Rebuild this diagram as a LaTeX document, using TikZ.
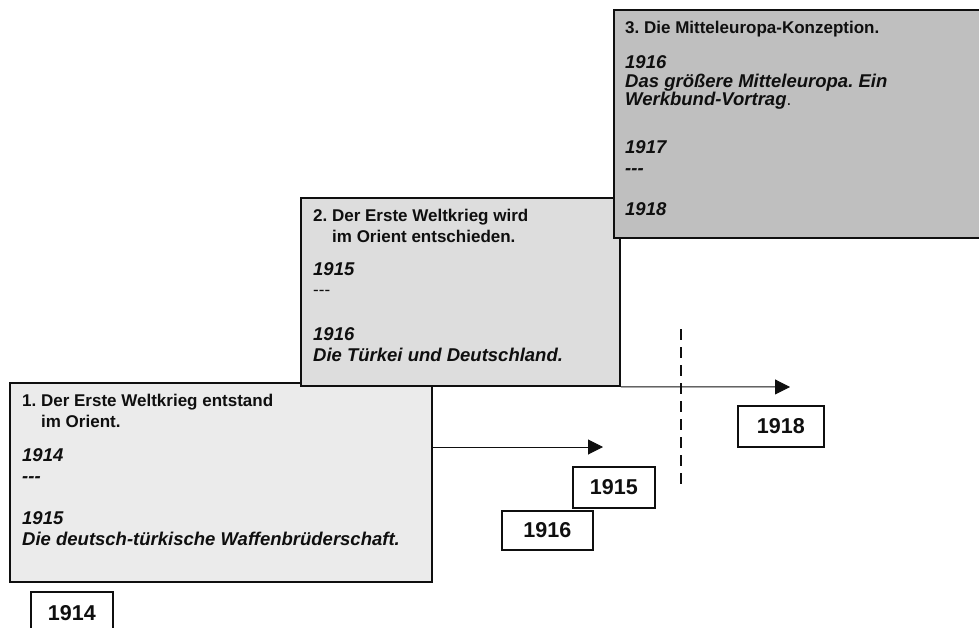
\documentclass[tikz,border=0pt]{standalone}
\usepackage{fontspec}
\setmainfont{Liberation Sans}
\usetikzlibrary{arrows.meta,positioning}
\definecolor{ink}{gray}{0.06}
\definecolor{paleI}{gray}{0.92}
\definecolor{paleII}{gray}{0.865}
\definecolor{paleIII}{gray}{0.75}
\newcommand{\yr}[1]{{\fontsize{18.5}{20.5}\selectfont\bfseries\itshape #1}}
\newcommand{\dashes}{{-}{-}{-}}
\frenchspacing

\begin{document}
\begin{tikzpicture}[x=1pt, y=-1pt,
  panel/.style={draw=ink, line width=1.8pt, anchor=north west, inner sep=0pt},
  paneltext/.style={anchor=north west, align=left, inner sep=0pt, ink, font=\fontsize{17}{20.5}\selectfont},
  yearbox/.style={draw=ink, line width=1.8pt, anchor=north west, inner sep=0pt, ink, font=\fontsize{21.5}{24}\selectfont\bfseries},
  timearrow/.style={ink, line width=1pt, -{Triangle[length=15pt,width=15pt]}}]
  \useasboundingbox (0,0) rectangle (979,628);

  % the three periods
  \node[panel, fill=paleI, minimum width=422pt, minimum height=199pt] (box1) at (9,382) {};
  \node[paneltext] (txt1) at ([xshift=13pt,yshift=-12pt]box1.north west)
    {\textbf{1. Der Erste Weltkrieg entstand}\\ \hspace*{19pt}\textbf{im Orient.}\\[14pt]
     \yr{1914}\\ \yr{\dashes}\\[22pt] \yr{1915}\\ \yr{Die deutsch-türkische Waffenbrüderschaft.}};

  \node[panel, fill=paleII, minimum width=319pt, minimum height=188pt] (box2) at (300,197) {};
  \node[paneltext] (txt2) at ([xshift=13pt,yshift=-12pt]box2.north west)
    {\textbf{2. Der Erste Weltkrieg wird}\\ \hspace*{19pt}\textbf{im Orient entschieden.}\\[12.5pt]
     \yr{1915}\\ \dashes\\[24.5pt] \yr{1916}\\ \yr{Die Türkei und Deutschland.}};

  \node[panel, fill=paleIII, minimum width=372pt, minimum height=228pt] (box3) at (613,9) {};
  \node[paneltext] (txt3) at ([xshift=12pt,yshift=-12pt]box3.north west)
    {\textbf{3. Die Mitteleuropa-Konzeption.}\\[14.5pt]
     \yr{1916}\\[-1.5pt] \yr{Das größere Mitteleuropa. Ein}\\[-2.5pt] \yr{Werkbund-Vortrag}.\\[27.5pt]
     \yr{1917}\\ \yr{\dashes}\\[21pt] \yr{1918}};

  % years
  \node[yearbox, minimum width=82pt, minimum height=42pt] (y1914) at (30,591) {1914};
  \node[yearbox, minimum width=82pt, minimum height=41pt] (y1915) at (572,466) {1915};
  \node[yearbox, minimum width=91pt, minimum height=39pt] (y1916) at (501,510) {1916};
  \node[yearbox, minimum width=86pt, minimum height=41pt] (y1918) at (737,405) {1918};

  % arrows and the break
  \coordinate (tip1) at (603,447);
  \coordinate (tip2) at (790,387);
  \draw[timearrow] (box1.east |- tip1) -- (tip1);
  \draw[timearrow] (box2.south east) -- (tip2);
  \coordinate (cutTop) at (681,329);
  \coordinate (cutBot) at (681,488);
  \draw[ink, line width=1.2pt, dash pattern=on 11pt off 7pt] (cutTop) -- (cutBot);
\end{tikzpicture}
\end{document}
